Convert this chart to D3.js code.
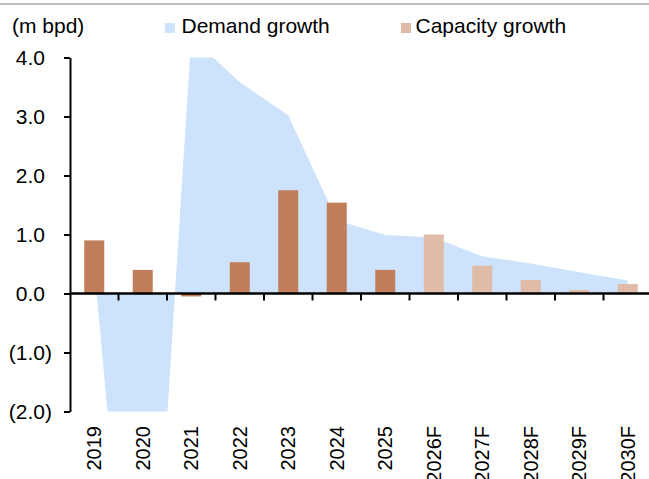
<!DOCTYPE html>
<html>
<head>
<meta charset="utf-8">
<script src="https://d3js.org/d3.v7.min.js"></script>
<style>
  body { margin: 0; background: #fff; }
  svg text { font-family: "Liberation Sans", Arial, sans-serif; fill: #000; }
</style>
</head>
<body>
<svg id="chart" width="649" height="479"></svg>
<script>
// data
var years = ["2019","2020","2021","2022","2023","2024","2025","2026F","2027F","2028F","2029F","2030F"];
var demandGrowth = [0.45, -8.6, 4.35, 3.58, 3.02, 1.24, 0.99, 0.95, 0.63, 0.51, 0.36, 0.22];
var capacityGrowth = [0.9, 0.4, -0.05, 0.53, 1.75, 1.54, 0.4, 1.0, 0.47, 0.23, 0.06, 0.16];
var forecastYears = ["2026F","2027F","2028F","2029F","2030F"];
var yTicks = [4, 3, 2, 1, 0, -1, -2];

var rows = years.map((y, i) => ({year: y, demand: demandGrowth[i], capacity: capacityGrowth[i]}));

var svg = d3.select("#chart");

var xScale = d3.scaleBand()
  .domain(years)
  .range([70, 652])
  .padding(0);

var yScale = d3.scaleLinear()
  .domain([-2, 4])
  .range([411.5, 57.5]);

// top grey rule
svg.append("line")
  .attr("x1", 0).attr("x2", 649)
  .attr("y1", 4).attr("y2", 4)
  .attr("stroke", "#bfbfbf")
  .attr("stroke-width", 2);

// ############################################
// DEMAND AREA (clipped to plot range)
svg.append("clipPath")
  .attr("id", "plotClip")
  .append("rect")
  .attr("x", 70).attr("y", yScale(4))
  .attr("width", 582).attr("height", yScale(-2) - yScale(4));

var area = d3.area()
  .x(d => xScale(d.year) + xScale.bandwidth() / 2)
  .y0(yScale(0))
  .y1(d => yScale(d.demand));

svg.append("path")
  .datum(rows)
  .attr("clip-path", "url(#plotClip)")
  .attr("fill", "#cce3fb")
  .attr("d", area);

// ############################################
// CAPACITY BARS
var barW = 20;
svg.selectAll("rect.bar")
  .data(rows)
  .join("rect")
    .attr("class", "bar")
    .attr("x", d => xScale(d.year) + xScale.bandwidth() / 2 - barW / 2)
    .attr("width", barW)
    .attr("y", d => yScale(Math.max(0, d.capacity)))
    .attr("height", d => Math.abs(yScale(d.capacity) - yScale(0)))
    .attr("fill", d => forecastYears.includes(d.year) ? "#e0bba7" : "#bf7e59");

// ############################################
// AXES
var yAxis = svg.append("g")
  .attr("transform", "translate(70,0)")
  .call(d3.axisLeft(yScale).tickValues(yTicks).tickSize(6).tickSizeOuter(0)
    .tickFormat(d => d < 0 ? "(" + d3.format(".1f")(-d) + ")" : d3.format(".1f")(d)));

yAxis.select(".domain").attr("stroke", "#000").attr("stroke-width", 2);
yAxis.selectAll(".tick line").attr("stroke", "#000").attr("stroke-width", 2);
yAxis.selectAll(".tick text")
  .attr("x", 0)
  .attr("dy", "0.36em")
  .attr("text-anchor", "end")
  .style("font-size", "20px")
  .attr("transform", d => `translate(${d < 0 ? -18 : -25},0) scale(1.05,1)`);

// x axis on zero line, ticks on band boundaries
var xAxisG = svg.append("g");
xAxisG.append("line")
  .attr("x1", 70).attr("x2", 649)
  .attr("y1", yScale(0)).attr("y2", yScale(0))
  .attr("stroke", "#000")
  .attr("stroke-width", 2.5);

xAxisG.selectAll("line.xtick")
  .data(years.slice(1))
  .join("line")
    .attr("class", "xtick")
    .attr("x1", d => xScale(d)).attr("x2", d => xScale(d))
    .attr("y1", yScale(0)).attr("y2", yScale(0) + 7)
    .attr("stroke", "#000")
    .attr("stroke-width", 2);

xAxisG.selectAll("text.xlab")
  .data(years)
  .join("text")
    .attr("class", "xlab")
    .attr("transform", d => `translate(${xScale(d) + xScale.bandwidth() / 2},426) rotate(-90)`)
    .attr("text-anchor", "end")
    .attr("dy", "0.36em")
    .style("font-size", "20px")
    .text(d => d);

// ############################################
// LEGEND + unit label
svg.append("text")
  .attr("x", 12).attr("y", 33)
  .style("font-size", "21px")
  .text("(m bpd)");

var legendItems = [
  {label: "Demand growth", c: "#cce3fb", boxX: 165, textX: 181.5},
  {label: "Capacity growth", c: "#e0bba7", boxX: 401, textX: 415.5}
];

var legendG = svg.append("g").attr("class", "legend");
legendG.selectAll("rect")
  .data(legendItems)
  .join("rect")
    .attr("x", d => d.boxX).attr("y", 23)
    .attr("width", 10).attr("height", 10)
    .attr("fill", d => d.c);
legendG.selectAll("text")
  .data(legendItems)
  .join("text")
    .attr("x", d => d.textX).attr("y", 33.3)
    .style("font-size", "21px")
    .text(d => d.label);
</script>
</body>
</html>
